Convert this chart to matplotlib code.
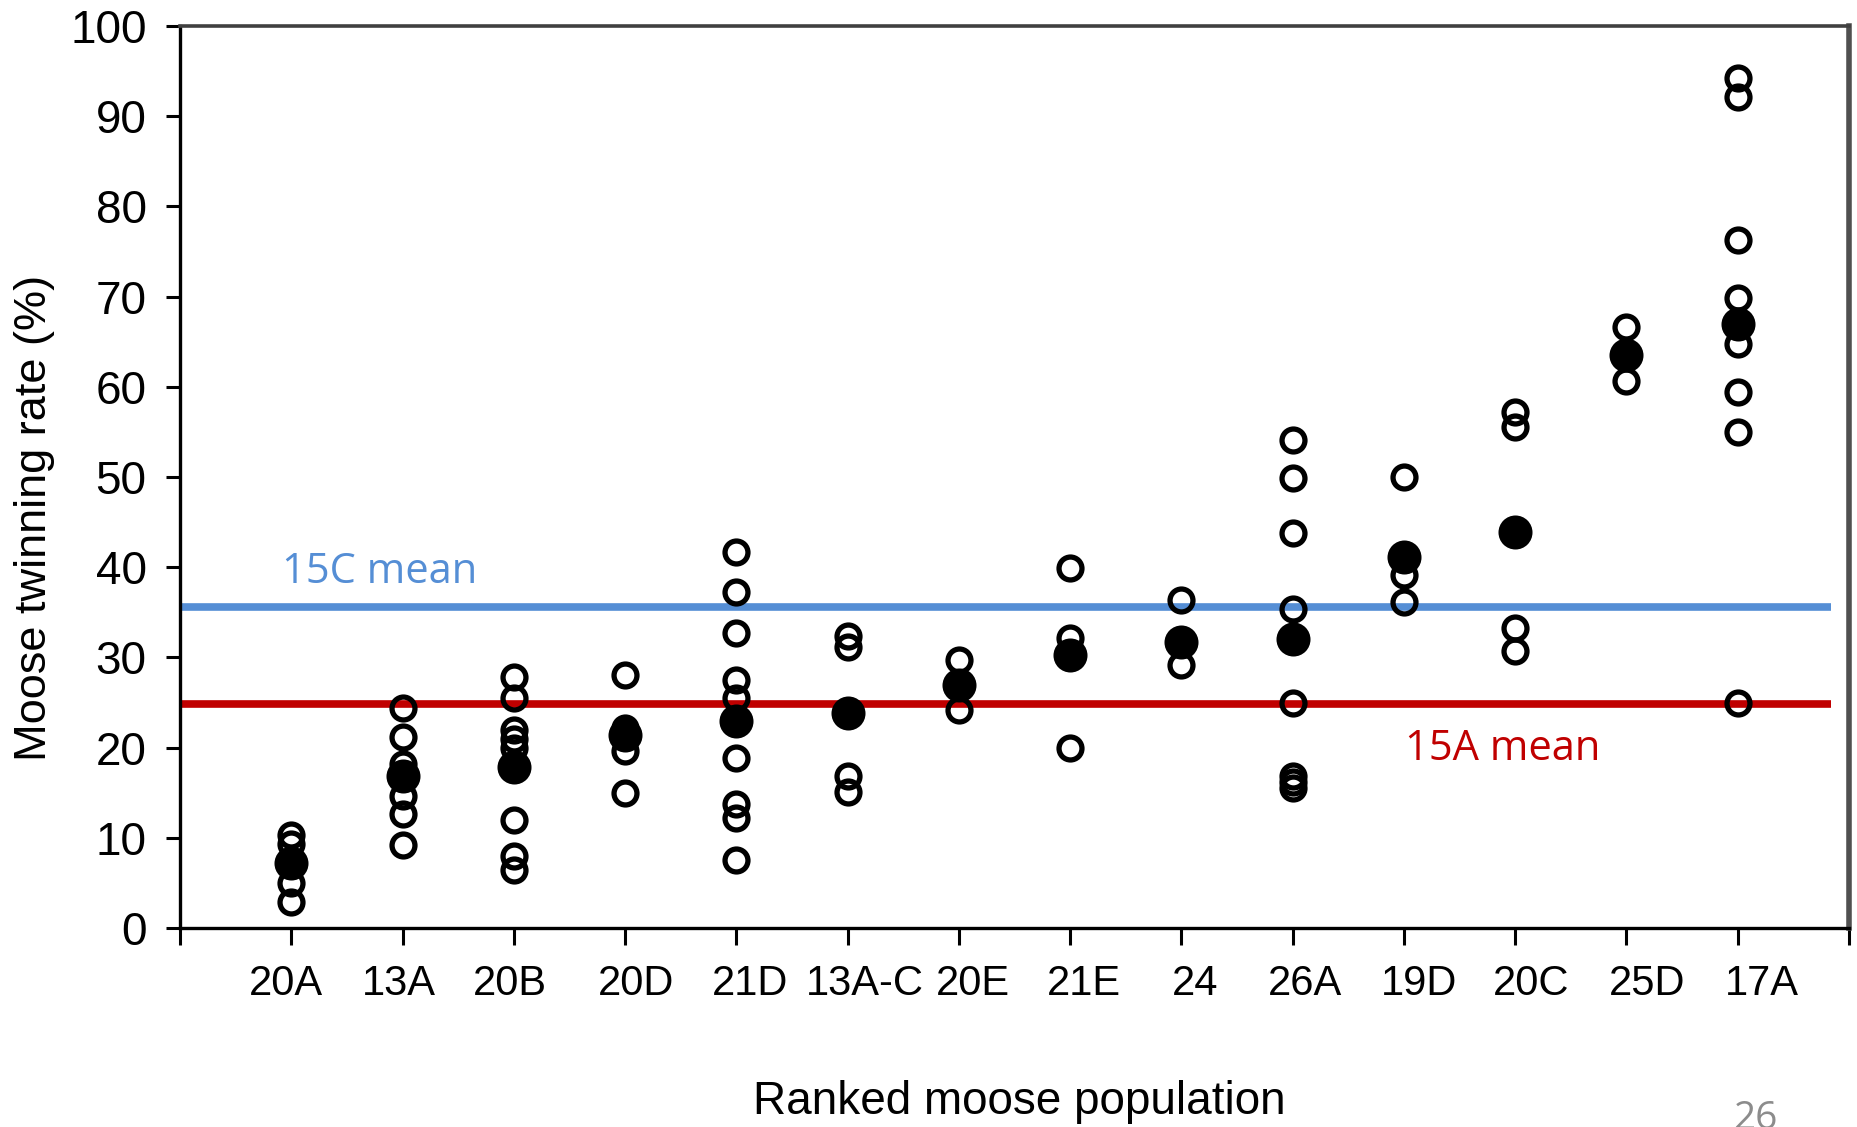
import matplotlib
matplotlib.use("Agg")
import matplotlib.pyplot as plt
from matplotlib.transforms import ScaledTranslation

# ---------------- data ----------------
populations = ['20A', '13A', '20B', '20D', '21D', '13A-C', '20E',
               '21E', '24', '26A', '19D', '20C', '25D', '17A']
pop_means = [7.2, 16.8, 17.9, 21.4, 22.9, 23.8, 26.9,
             30.3, 31.7, 32.0, 41.1, 43.9, 63.5, 67.0]
rates_20A = [10.3, 9.3, 5.0, 2.9]
rates_13A = [24.4, 21.2, 18.2, 14.6, 12.6, 9.2]
rates_20B = [27.8, 25.5, 21.9, 21.0, 20.0, 12.0, 8.0, 6.4]
rates_20D = [28.0, 22.2, 19.6, 15.0]
rates_21D = [41.7, 37.3, 32.7, 27.5, 25.5, 18.8, 13.8, 12.2, 7.5]
rates_13AC = [32.4, 31.2, 16.8, 15.1]
rates_20E = [29.7, 24.2]
rates_21E = [39.9, 32.2, 20.0]
rates_24 = [36.4, 29.2]
rates_26A = [54.1, 49.9, 43.8, 35.4, 24.9, 16.9, 16.2, 15.5]
rates_19D = [50.0, 39.1, 36.1]
rates_20C = [57.2, 55.5, 33.3, 30.7]
rates_25D = [66.6, 60.6]
rates_17A = [94.2, 92.1, 76.3, 69.9, 64.8, 59.4, 55.0, 24.9]
mean_15C = 35.6
mean_15A = 24.8
y_ticks = [0, 10, 20, 30, 40, 50, 60, 70, 80, 90, 100]

all_rates = [rates_20A, rates_13A, rates_20B, rates_20D, rates_21D, rates_13AC,
             rates_20E, rates_21E, rates_24, rates_26A, rates_19D, rates_20C,
             rates_25D, rates_17A]

# ---------------- figure ----------------
W, H = 1858, 1127
fig = plt.figure(figsize=(W / 100, H / 100), dpi=100)
ax = fig.add_axes([180 / W, 1 - 928 / H, (1849 - 180) / W, (928 - 26) / H])

BLUE = '#558ED5'
RED = '#C00000'
tick_font = ['Liberation Sans', 'DejaVu Sans']
ppt_font = ['Open Sans', 'DejaVu Sans']

positions = list(range(1, len(populations) + 1))

# reference lines
ax.plot([0, 14.84], [mean_15C, mean_15C], color=BLUE, lw=5.5, solid_capstyle='butt', zorder=2)
ax.plot([0, 14.84], [mean_15A, mean_15A], color=RED, lw=5.5, solid_capstyle='butt', zorder=2)

# open circles
for x, vals in zip(positions, all_rates):
    ax.plot([x] * len(vals), vals, linestyle='none', marker='o', markersize=16.5,
            markerfacecolor='none', markeredgecolor='black', markeredgewidth=3.8, zorder=3)

# filled means
ax.plot(positions, pop_means, linestyle='none', marker='o', markersize=24.5,
        markerfacecolor='black', markeredgecolor='black', markeredgewidth=0, zorder=4)

ax.set_xlim(0, 15)
ax.set_ylim(0, 100)

ax.set_xticks([0] + positions + [15])
ax.set_xticklabels([''] + populations + [''], fontfamily=tick_font, fontsize=30)
ax.set_yticks(y_ticks)
ax.set_yticklabels([str(v) for v in y_ticks], fontfamily=tick_font, fontsize=33)

ax.tick_params(axis='x', direction='out', length=12, width=2.2, pad=14, color='black')
ax.tick_params(axis='y', direction='out', length=10, width=2.2, pad=14, color='black')

# label nudges (px) to mimic the original label placement
nudges = [-5, -4, -4, 11, 14, 17, 14, 14, 14, 12, 15, 16, 21, 24]
labels = ax.get_xticklabels()
for lbl, dx in zip(labels[1:-1], nudges):
    lbl.set_transform(lbl.get_transform() + ScaledTranslation(dx / 100, 0, fig.dpi_scale_trans))

for side in ['left', 'bottom']:
    ax.spines[side].set_linewidth(2.4)
    ax.spines[side].set_color('black')
ax.spines['top'].set_linewidth(2.6)
ax.spines['top'].set_color('#404040')
ax.spines['right'].set_linewidth(4.0)
ax.spines['right'].set_color('#505050')

# annotations
ax.text(0.917, 38.25, '15C mean', color=BLUE, fontfamily=ppt_font, fontsize=30, va='baseline', ha='left')
ax.text(11.01, 18.6, '15A mean', color=RED, fontfamily=ppt_font, fontsize=30, va='baseline', ha='left')

fig.text(35 / W, 1 - 518 / H, 'Moose twinning rate (%)', rotation=90, ha='center', va='center',
         fontfamily=tick_font, fontsize=32.5)
fig.text(1019 / W, 1 - 1114 / H, 'Ranked moose population', ha='center', va='baseline',
         fontfamily=tick_font, fontsize=33)
fig.text(1733 / W, 1 - 1129 / H, '26', ha='left', va='baseline', color='#8C8C8C',
         fontfamily=ppt_font, fontsize=28)

fig.savefig('out.png', dpi=100)
